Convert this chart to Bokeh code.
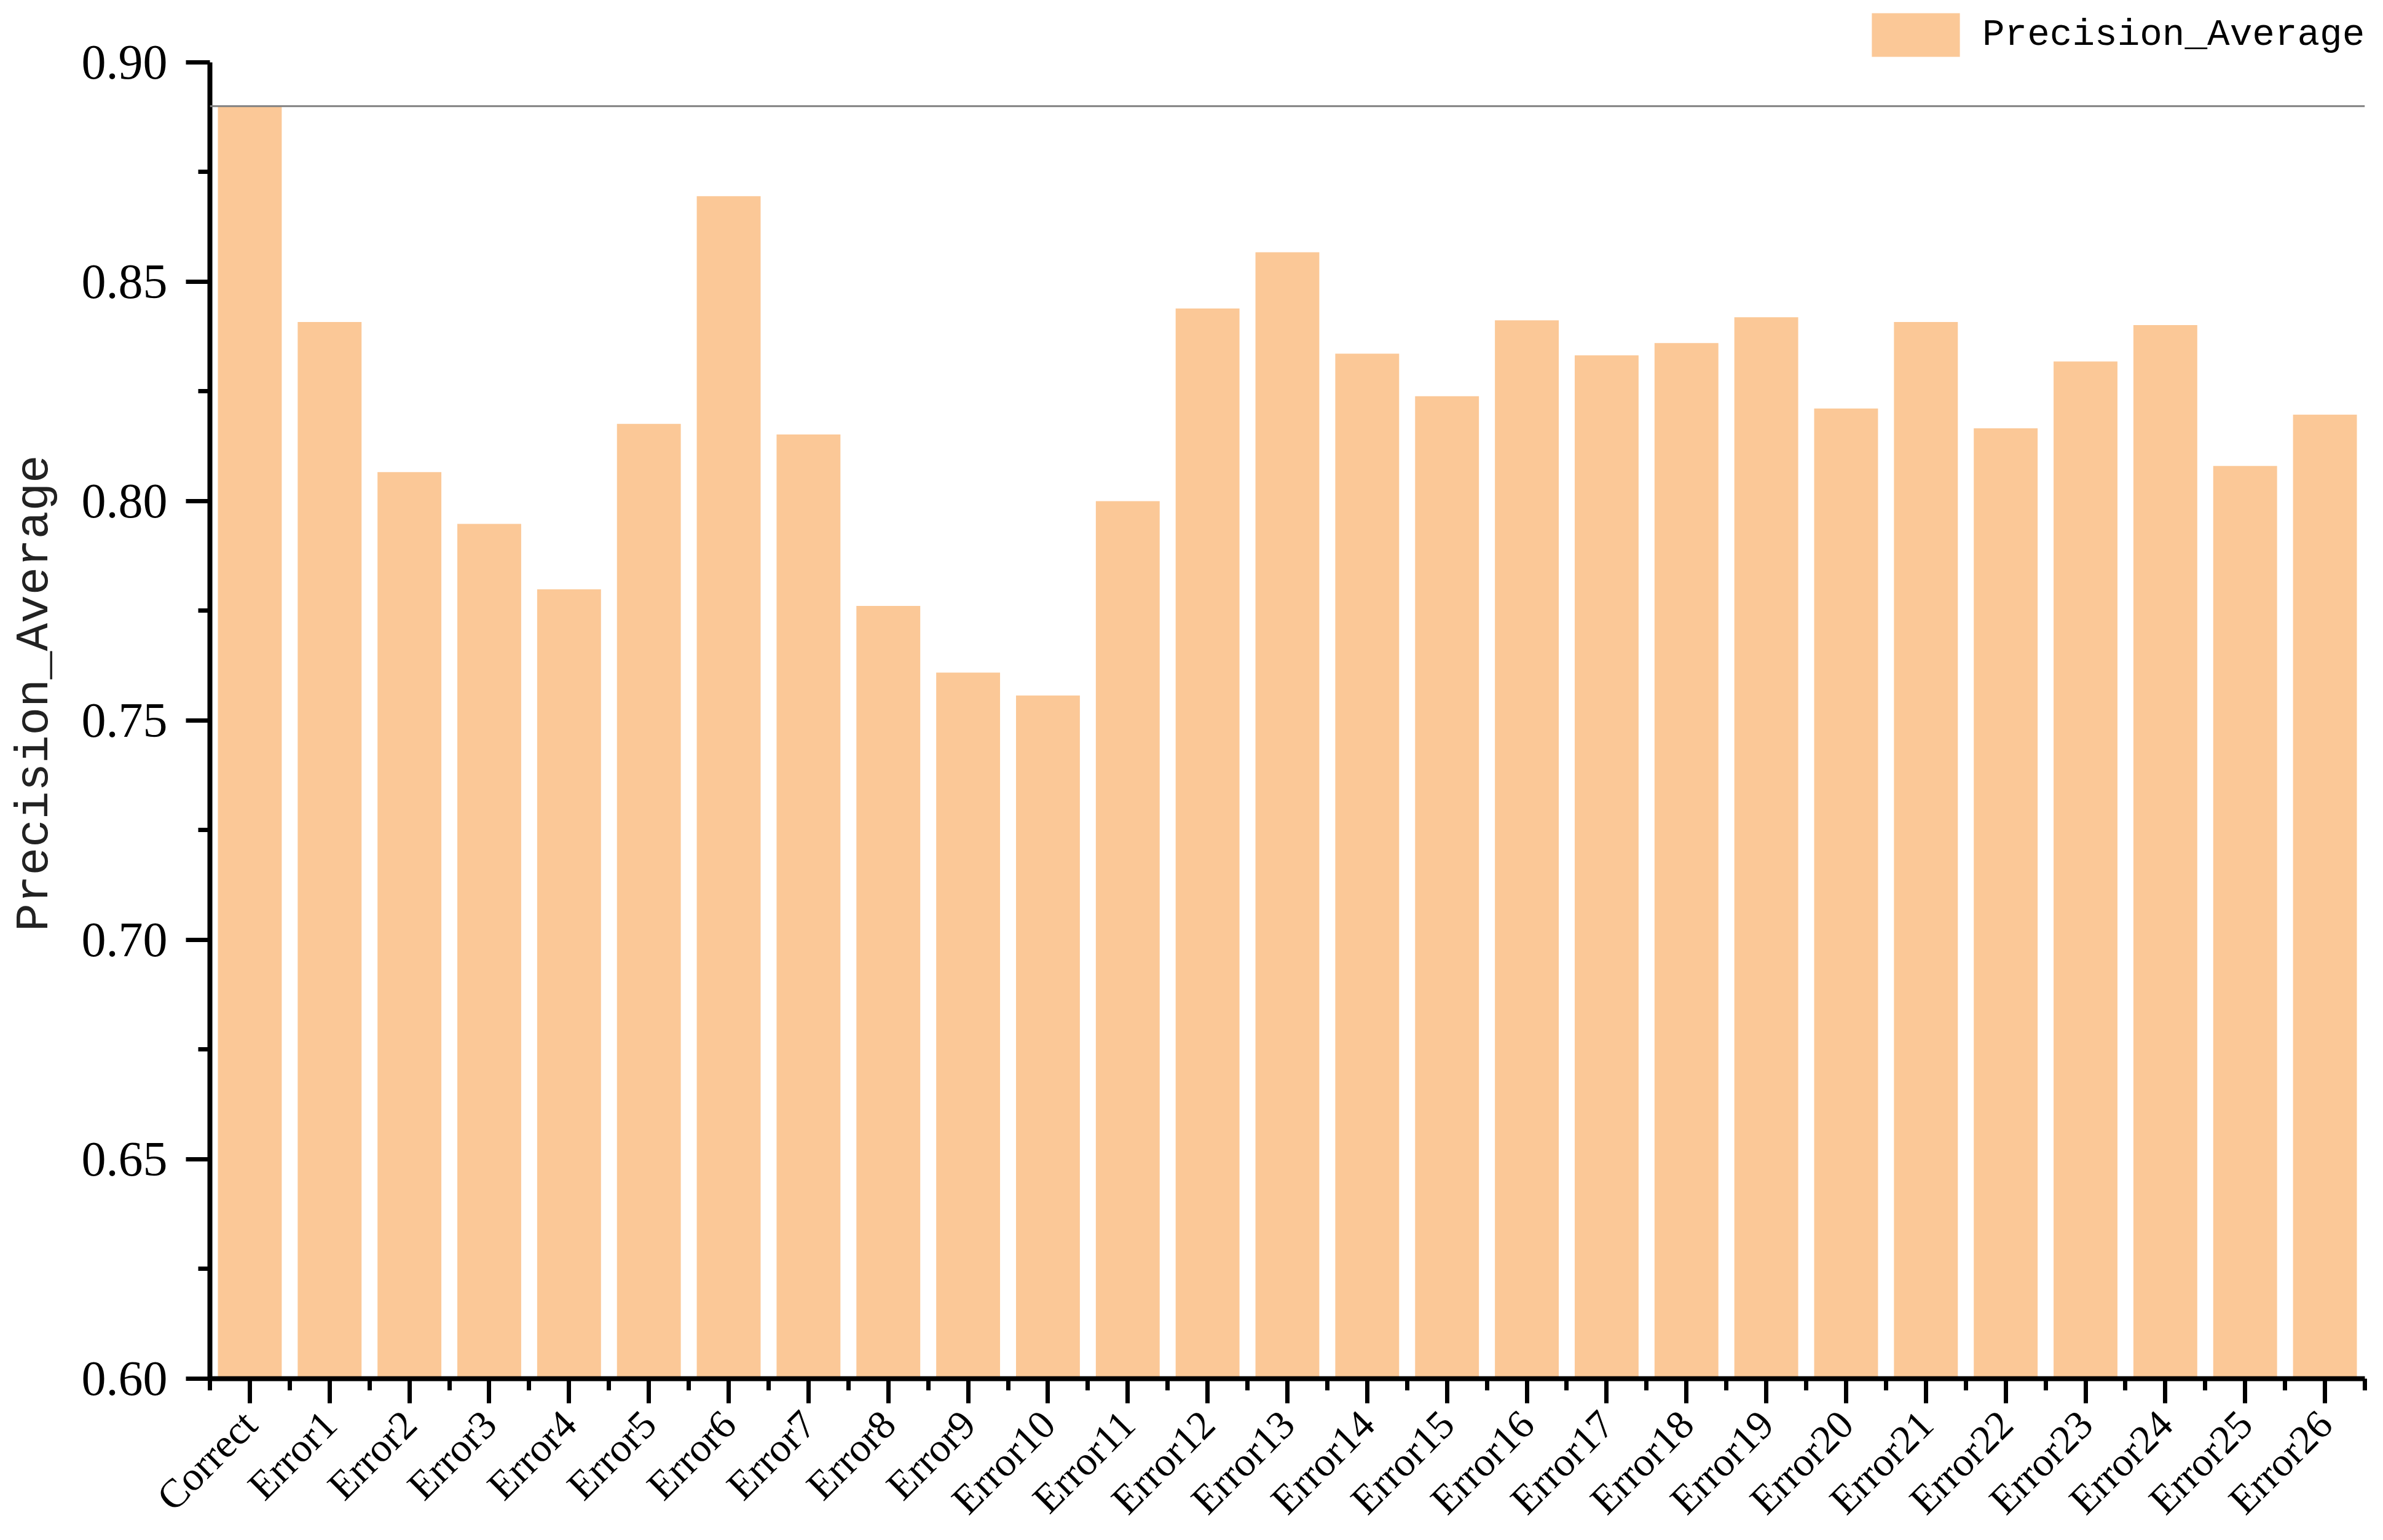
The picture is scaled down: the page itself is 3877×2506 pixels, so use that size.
import numpy as np
from bokeh.plotting import figure
from bokeh.models import Range1d, FixedTicker, Span, Legend, LegendItem, ColumnDataSource, NumeralTickFormatter
from bokeh.embed import file_html
from bokeh.resources import INLINE

categories = ["Correct", "Error1", "Error2", "Error3", "Error4", "Error5", "Error6", "Error7",
              "Error8", "Error9", "Error10", "Error11", "Error12", "Error13", "Error14", "Error15",
              "Error16", "Error17", "Error18", "Error19", "Error20", "Error21", "Error22", "Error23",
              "Error24", "Error25", "Error26"]
precision_average = [0.890, 0.8408, 0.8066, 0.7948, 0.7799, 0.8176, 0.8695, 0.8152, 0.7761,
                     0.7609, 0.7557, 0.8000, 0.8439, 0.8567, 0.8336, 0.8239, 0.8412, 0.8332,
                     0.8360, 0.8419, 0.8211, 0.8408, 0.8166, 0.8318, 0.8401, 0.8080, 0.8197]
y_ticks = [0.60, 0.65, 0.70, 0.75, 0.80, 0.85, 0.90]
series_name = "Precision_Average"

BAR = "#FBC897"
SERIF = "'Liberation Serif'"
MONO = "'Liberation Mono'"

# layout (pixels): axis spans 0.60..0.90 over 2145 px; headroom above for the legend
FRAME_TOP = 12
FRAME_BOTTOM = 2246
AXIS_PX = 2145
y_lo, y_hi = y_ticks[0], y_ticks[-1]
y_top = y_lo + (y_hi - y_lo) * (FRAME_BOTTOM - FRAME_TOP) / AXIS_PX

idx = list(range(len(categories)))
src = ColumnDataSource(dict(x=idx, top=precision_average, cat=categories))

p = figure(width=3877, height=2506, output_backend="svg", toolbar_location=None, title=None,
           x_range=Range1d(-0.5, len(categories) - 0.5), y_range=Range1d(y_lo, y_top),
           min_border_left=341, min_border_right=30, min_border_top=FRAME_TOP,
           min_border_bottom=2506 - FRAME_BOTTOM)
p.outline_line_color = None
p.xgrid.visible = False
p.ygrid.visible = False
p.background_fill_color = "white"
p.border_fill_color = "white"

bars = p.vbar(x="x", top="top", bottom=y_lo, width=0.8, source=src,
              fill_color=BAR, line_color=None)

ref = Span(location=precision_average[0], dimension="width", line_color="#808080", line_width=3)
p.add_layout(ref)

# Y axis
ya = p.yaxis[0]
minor_y = [(a + b) / 2 for a, b in zip(y_ticks[:-1], y_ticks[1:])]
ya.ticker = FixedTicker(ticks=y_ticks, minor_ticks=minor_y)
ya.bounds = (y_lo, y_hi)
ya.formatter = NumeralTickFormatter(format="0.00")
ya.axis_line_width = 8
ya.axis_line_color = "black"
ya.major_tick_line_width = 7
ya.minor_tick_line_width = 7
ya.major_tick_out = 39
ya.major_tick_in = 0
ya.minor_tick_out = 19
ya.minor_tick_in = 0
ya.major_label_text_font = SERIF
ya.major_label_text_font_size = "80px"
ya.major_label_text_color = "black"
ya.major_label_standoff = 30
ya.axis_label = series_name
ya.axis_label_text_font = MONO
ya.axis_label_text_font_style = "normal"
ya.axis_label_text_font_size = "76px"
ya.axis_label_text_color = "#222222"
ya.axis_label_standoff = 30

# X axis
xa = p.xaxis[0]
xa.ticker = FixedTicker(ticks=idx, minor_ticks=[i - 0.5 for i in range(len(categories) + 1)])
xa.major_label_overrides = {i: c for i, c in zip(idx, categories)}
xa.major_label_orientation = np.pi / 4
xa.axis_line_width = 8
xa.axis_line_color = "black"
xa.major_tick_line_width = 7
xa.minor_tick_line_width = 7
xa.major_tick_out = 40
xa.major_tick_in = 0
xa.minor_tick_out = 19
xa.minor_tick_in = 0
xa.major_label_text_font = SERIF
xa.major_label_text_font_size = "66px"
xa.major_label_text_color = "black"
xa.major_label_standoff = 23

legend = Legend(items=[LegendItem(label=series_name, renderers=[bars])],
                location=(2686, FRAME_BOTTOM - 104), orientation="vertical",
                padding=0, margin=0, spacing=0,
                glyph_width=179, glyph_height=89, label_height=89,
                label_standoff=19,
                label_text_font=MONO, label_text_font_size="61px",
                label_text_color="black",
                border_line_color=None, background_fill_alpha=0)
p.add_layout(legend)

open("out.html", "w").write(file_html(p, INLINE))
